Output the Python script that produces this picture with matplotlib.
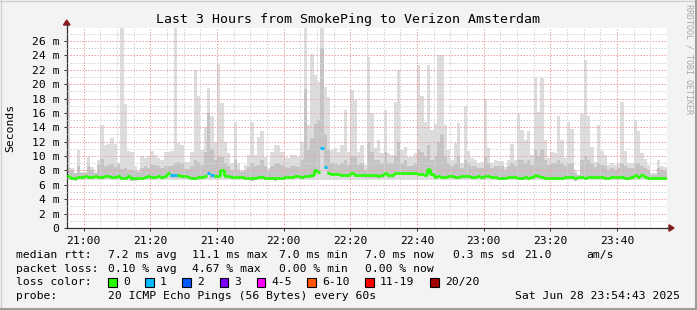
import matplotlib
matplotlib.use('Agg')
import matplotlib.pyplot as plt
import numpy as np
from matplotlib.lines import Line2D
from matplotlib.patches import Rectangle, Polygon
from matplotlib.collections import LineCollection

W, H = 697, 310

title = 'Last 3 Hours from SmokePing to Verizon Amsterdam'
time_labels = ['21:00', '21:20', '21:40', '22:00', '22:20', '22:40', '23:00', '23:20', '23:40']
y_labels = ['0', '2 m', '4 m', '6 m', '8 m', '10 m', '12 m', '14 m', '16 m',
            '18 m', '20 m', '22 m', '24 m', '26 m']

# one column per minute, starting 20:55
smoke_max = [20.2, 8.3, 7.6, 10.9, 7.8, 7.8, 9.9, 8.5, 7.8, 9.5, 14.3, 11.5, 11.7, 12.5, 11.7,
             9.0, 27.8, 17.3, 10.7, 10.5, 8.6, 8.1, 10.0, 9.7, 10.0, 10.7, 10.2, 9.7, 9.5, 10.5,
             10.6, 10.7, 27.8, 11.8, 11.6, 9.2, 9.2, 10.6, 22.0, 18.3, 10.9, 14.1, 19.5, 15.5, 12.0,
             22.8, 17.4, 12.0, 10.4, 9.0, 14.8, 9.0, 8.1, 8.8, 10.2, 14.7, 10.2, 12.7, 13.5, 9.9,
             8.3, 10.6, 11.5, 11.5, 10.6, 9.9, 9.7, 10.2, 10.2, 9.9, 12.0, 27.8, 14.3, 24.2, 21.3,
             20.3, 27.8, 19.6, 18.2, 10.9, 11.1, 10.6, 11.6, 16.4, 10.6, 19.2, 17.8, 10.6, 11.6, 8.8,
             23.7, 16.0, 11.1, 12.2, 10.4, 16.4, 10.4, 10.2, 17.5, 22.0, 10.9, 11.3, 9.9, 9.9, 10.4,
             22.7, 18.3, 14.8, 22.7, 13.6, 14.4, 24.1, 24.1, 14.3, 10.9, 9.5, 11.8, 14.6, 9.0, 17.0,
             10.7, 9.7, 9.5, 9.0, 9.2, 18.0, 11.1, 9.0, 9.5, 9.3, 9.3, 8.5, 9.5, 11.7, 9.5,
             15.8, 13.6, 12.2, 13.5, 10.2, 20.9, 16.1, 20.9, 12.2, 9.7, 10.6, 10.4, 15.6, 12.2, 9.7,
             14.7, 13.8, 8.1, 7.4, 15.9, 23.3, 15.6, 11.3, 9.2, 14.3, 10.7, 10.2, 8.8, 9.1, 8.7,
             9.0, 17.5, 10.7, 9.0, 9.1, 15.0, 13.5, 10.4, 9.6, 8.8, 7.6, 7.6, 9.5, 8.6, 8.5]

smoke_mid = [8.4, 8.0, 7.6, 8.6, 7.7, 7.7, 8.6, 8.0, 7.6, 8.7, 9.6, 8.6, 8.7, 8.9, 8.5,
             9.4, 8.2, 8.4, 8.0, 8.0, 7.9, 7.8, 8.4, 8.6, 8.4, 8.8, 8.8, 8.6, 8.4, 8.6,
             8.6, 8.6, 9.0, 9.2, 9.0, 8.2, 8.2, 8.6, 9.4, 9.2, 8.8, 10.5, 16.0, 11.0, 9.5,
             10.0, 9.8, 9.0, 8.6, 8.0, 9.5, 8.0, 7.8, 7.9, 8.5, 9.0, 8.6, 8.8, 9.5, 8.6,
             7.9, 8.6, 9.0, 9.0, 8.8, 8.5, 8.4, 8.6, 8.6, 8.5, 9.4, 19.3, 11.0, 12.5, 14.5,
             15.0, 25.0, 13.0, 11.0, 9.0, 9.0, 8.8, 9.0, 9.5, 8.8, 10.0, 10.0, 8.8, 9.0, 8.0,
             12.0, 10.5, 9.5, 9.5, 9.0, 10.5, 9.0, 9.0, 10.0, 12.0, 9.0, 9.5, 8.6, 8.6, 9.0,
             11.0, 10.5, 10.0, 11.5, 9.5, 10.0, 12.0, 13.0, 10.0, 9.0, 8.6, 9.0, 10.0, 8.4, 9.5,
             9.0, 8.6, 8.6, 8.4, 8.4, 10.0, 9.0, 8.4, 8.6, 8.6, 8.6, 8.0, 8.6, 9.0, 8.6,
             9.5, 9.5, 9.0, 9.5, 8.8, 11.0, 10.0, 11.0, 9.5, 8.8, 9.0, 9.0, 9.5, 9.0, 8.6,
             9.0, 9.0, 7.6, 7.3, 9.5, 10.0, 9.5, 9.0, 8.5, 9.0, 8.8, 8.6, 8.0, 8.4, 8.0,
             8.4, 9.0, 8.6, 8.4, 8.4, 9.0, 9.0, 8.6, 8.4, 8.0, 7.4, 7.4, 8.4, 8.0, 7.9]

median = [7.2, 7.0, 6.9, 7.1, 7.1, 7.2, 7.1, 7.1, 7.2, 7.1, 7.1, 7.2, 7.2, 7.1, 7.1,
          7.2, 7.0, 7.0, 7.2, 6.9, 6.9, 7.0, 7.0, 7.1, 7.2, 7.1, 7.1, 7.2, 7.1, 7.2,
          7.6, 7.3, 7.3, 7.3, 7.2, 7.2, 7.1, 7.0, 7.0, 7.1, 7.1, 7.2, 7.6, 7.3, 7.2,
          7.2, 8.0, 7.2, 7.2, 7.1, 7.1, 7.1, 7.1, 7.0, 7.0, 6.9, 7.0, 7.1, 7.1, 7.0,
          7.0, 7.0, 6.9, 7.0, 7.0, 7.1, 7.1, 7.1, 7.2, 7.2, 7.1, 7.2, 7.2, 7.3, 8.0,
          7.8, 11.1, 8.5, 7.7, 7.5, 7.5, 7.5, 7.4, 7.4, 7.4, 7.7, 7.4, 7.4, 7.4, 7.3,
          7.3, 7.3, 7.3, 7.2, 7.3, 7.6, 7.3, 7.3, 7.6, 7.6, 7.6, 7.6, 7.7, 7.7, 7.7,
          7.5, 7.5, 7.4, 8.2, 7.5, 7.1, 7.2, 7.1, 7.1, 7.2, 7.2, 7.1, 7.1, 7.2, 7.2,
          7.2, 7.1, 7.1, 7.2, 7.1, 7.2, 7.2, 7.1, 7.1, 7.0, 7.0, 7.0, 7.1, 7.1, 7.1,
          7.0, 7.0, 7.1, 7.0, 7.1, 7.3, 7.2, 7.1, 7.0, 7.0, 7.0, 7.0, 7.0, 7.0, 7.1,
          7.1, 7.1, 6.9, 7.1, 7.1, 7.0, 7.1, 7.1, 7.1, 7.1, 7.1, 7.0, 7.0, 7.1, 7.1,
          7.1, 7.1, 7.0, 7.0, 7.1, 7.4, 7.1, 7.4, 7.1, 7.0, 7.0, 7.0, 7.0, 7.0, 7.0]

smoke_floor = 6.7
loss_points = [(31, 1), (32, 1), (42, 1), (43, 1), (76, 1), (77, 1)]

loss_labels = ['0', '1', '2', '3', '4-5', '6-10', '11-19', '20/20']
loss_colors = ['#26ff00', '#00b8ff', '#0059ff', '#7e00ff', '#ff00ff', '#ff5500', '#ff0000', '#a10000']
loss_box_x = [108, 145, 182, 219.5, 256.5, 307, 365, 430]

rtt_stats = ['7.2 ms avg', '11.1 ms max', '7.0 ms min', '7.0 ms now', '0.3 ms sd', '21.0', 'am/s']
rtt_x = [108, 192, 279, 365, 453, 524, 586.5]
loss_stats = ['0.10 % avg', '4.67 % max', '0.00 % min', '0.00 % now']
loss_x = [108, 192, 279, 365]
probe = '20 ICMP Echo Pings (56 Bytes) every 60s'
stamp = 'Sat Jun 28 23:54:43 2025'

n = len(median)
assert len(smoke_max) == n and len(smoke_mid) == n

mono = 'DejaVu Sans Mono'
fs = 8.2


def fx(x):
    return x / W


def fy(y):
    return 1 - y / H


fig = plt.figure(figsize=(W / 100, H / 100), dpi=100, facecolor='#f3f3f3')
ax = fig.add_axes([fx(67), fy(228), 600 / W, 200 / H])
ax.set_facecolor('white')
ax.set_xlim(0, 180)
ax.set_ylim(0, 27.8)

x = np.arange(n)
med = np.array(median)
top = np.array(smoke_max)
mid = np.minimum(np.array(smoke_mid), top)

# smoke: lightest band to the max, darker bands closer to the median
ax.bar(x, top - smoke_floor, bottom=smoke_floor, width=1, align='edge',
       color='#dddddd', linewidth=0, zorder=1)
for frac, col in [(1.0, '#c4c4c4'), (0.65, '#a4a4a4'), (0.4, '#7e7e7e'), (0.22, '#4e4e4e')]:
    t = med + frac * (mid - med)
    b = med - 0.3
    ax.bar(x, t - b, bottom=b, width=1, align='edge', color=col, linewidth=0, zorder=1 + frac)

# grid
for v in range(1, 28):
    c = '#f0a0a0' if v % 2 == 0 else '#d4d4d4'
    ax.axhline(v, color=c, lw=0.72, ls=(0, (1.5, 1.5)), zorder=3)
for m in range(5, 180, 5):
    c = '#f0a0a0' if (m - 5) % 20 == 0 else '#d4d4d4'
    ax.axvline(m, color=c, lw=0.72, ls=(0, (1.5, 1.5)), zorder=3)

# median line coloured by loss, vertical joins only along the no-loss line
loss = dict(loss_points)
segs, cols = [], []
for i in range(n):
    c = loss_colors[loss.get(i, 0)]
    segs.append([(i, med[i]), (i + 1, med[i])])
    cols.append(c)
    if i + 1 < n and loss.get(i, 0) == 0 and loss.get(i + 1, 0) == 0:
        segs.append([(i + 1, med[i]), (i + 1, med[i + 1])])
        cols.append(c)
ax.add_collection(LineCollection(segs, colors=cols, linewidths=2, capstyle='butt', zorder=5))

ax.set_xticks(np.arange(5, 180, 20))
ax.set_xticklabels(time_labels, fontfamily=mono, fontsize=fs)
ax.set_yticks(np.arange(0, 28, 2))
ax.set_yticklabels(y_labels, fontfamily=mono, fontsize=fs)
ax.tick_params(length=2, width=0.7, color='#333333', pad=3.5)
for s in ['top', 'right']:
    ax.spines[s].set_visible(False)
for s in ['left', 'bottom']:
    ax.spines[s].set_color('#333333')
    ax.spines[s].set_linewidth(0.9)

# axis arrows
fig.add_artist(Line2D([fx(66.7), fx(66.7)], [fy(28), fy(24)], color='#333333', lw=0.9))
fig.add_artist(Line2D([fx(667), fx(670)], [fy(228), fy(228)], color='#333333', lw=0.9))
fig.add_artist(Polygon([(fx(63.5), fy(25)), (fx(70), fy(25)), (fx(66.7), fy(20))],
                       closed=True, color='#8b1a1a'))
fig.add_artist(Polygon([(fx(669), fy(224.8)), (fx(669), fy(231.2)), (fx(674), fy(228))],
                       closed=True, color='#8b1a1a'))

# texts
fig.text(fx(348.5), fy(19), title, fontfamily=mono, fontsize=9.5, ha='center', va='center')
fig.text(fx(10), fy(128), 'Seconds', fontfamily=mono, fontsize=fs, rotation=90,
         ha='center', va='center')
fig.text(fx(688.5), fy(4), 'RRDTOOL / TOBI OETIKER', fontfamily=mono, fontsize=6,
         rotation=270, ha='center', va='top', color='#a8a8a8')

rows = [255, 268.5, 282, 296]
fig.text(fx(16), fy(rows[0]), 'median rtt:', fontfamily=mono, fontsize=fs, va='center')
for s, px in zip(rtt_stats, rtt_x):
    fig.text(fx(px), fy(rows[0]), s, fontfamily=mono, fontsize=fs, va='center')
fig.text(fx(16), fy(rows[1]), 'packet loss:', fontfamily=mono, fontsize=fs, va='center')
for s, px in zip(loss_stats, loss_x):
    fig.text(fx(px), fy(rows[1]), s, fontfamily=mono, fontsize=fs, va='center')
fig.text(fx(16), fy(rows[2]), 'loss color:', fontfamily=mono, fontsize=fs, va='center')
for lab, col, bx in zip(loss_labels, loss_colors, loss_box_x):
    fig.add_artist(Rectangle((fx(bx), fy(rows[2] + 4.5)), 8.5 / W, 9 / H,
                             facecolor=col, edgecolor='black', lw=0.8))
    fig.text(fx(bx + 15), fy(rows[2]), lab, fontfamily=mono, fontsize=fs, va='center')
fig.text(fx(16), fy(rows[3]), 'probe:', fontfamily=mono, fontsize=fs, va='center')
fig.text(fx(108), fy(rows[3]), probe, fontfamily=mono, fontsize=fs, va='center')
fig.text(fx(680), fy(rows[3]), stamp, fontfamily=mono, fontsize=fs, va='center', ha='right')

# frame
fig.add_artist(Line2D([0, 1], [fy(0.5), fy(0.5)], color='#d0d0d0', lw=1))
fig.add_artist(Line2D([fx(0.5), fx(0.5)], [0, 1], color='#d0d0d0', lw=1))
fig.add_artist(Line2D([0, 1], [fy(309), fy(309)], color='#9c9c9c', lw=1.5))
fig.add_artist(Line2D([fx(696), fx(696)], [0, 1], color='#9c9c9c', lw=1.5))

fig.savefig('out.png', dpi=100, facecolor=fig.get_facecolor())
